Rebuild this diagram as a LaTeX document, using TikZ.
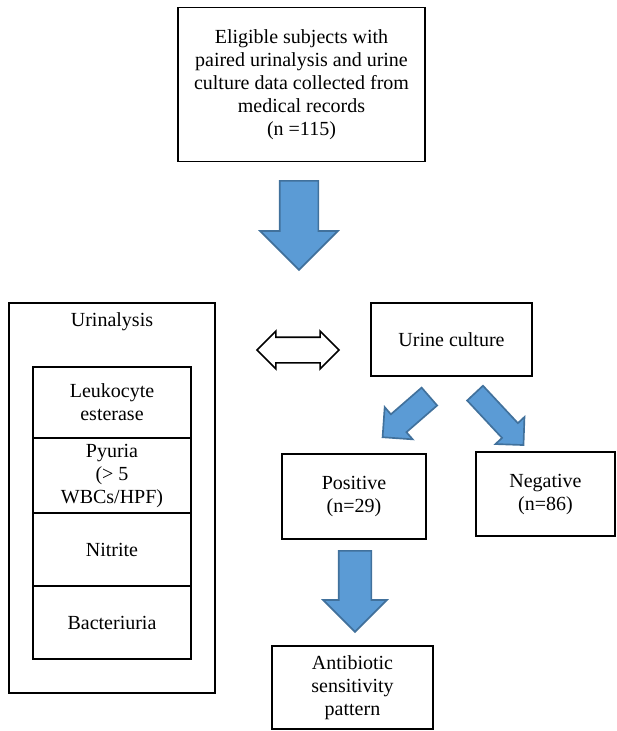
\documentclass[tikz,border=0pt]{standalone}
\usepackage{fontspec}
\setmainfont{Liberation Serif}
\usetikzlibrary{shapes.arrows,positioning}

\definecolor{arrowfill}{HTML}{5B9BD5}
\definecolor{arrowline}{HTML}{41719C}

\begin{document}
\begin{tikzpicture}[
    x=0.6pt,
    y=-0.6pt,
    font=\fontsize{12}{13.8}\selectfont,
    flowbox/.style={
        draw,
        rectangle,
        line width=0.8pt,
        align=center,
        inner sep=2pt
    },
    panelbox/.style={
        draw,
        rectangle,
        line width=1.4pt,
        minimum width=123.6pt,
        minimum height=234pt
    },
    cellbox/.style={
        draw,
        rectangle,
        line width=0.7pt,
        align=center,
        minimum width=94.8pt,
        inner sep=1pt
    },
    blockarrow/.style n args={3}{
        single arrow,
        draw=arrowline,
        fill=arrowfill,
        line width=1pt,
        anchor=tail,
        minimum width=0pt,
        inner xsep=0pt,
        inner ysep=#1,
        single arrow head extend=#2,
        minimum height=#3,
        single arrow tip angle=90
    },
    bidiarrow/.style={
        double arrow,
        draw=black,
        fill=white,
        line width=1pt,
        minimum width=0pt,
        inner xsep=0pt,
        double arrow tip angle=90
    }
]
\useasboundingbox (0,0) rectangle (617,731);

% ============================================================
% Top: study population
% ============================================================
\node[flowbox, minimum width=148.2pt, minimum height=92.4pt]
    (subjects) at (301.5,84.5)
    {Eligible subjects with\\paired urinalysis and urine\\culture data collected from\\medical records\\(n =115)};

\node[blockarrow={11.1pt}{11.7pt}{53.4pt}, rotate=-90]
    (arrow-main) at (299,180) {};

% ============================================================
% Left: urinalysis panel
% ============================================================
\node[panelbox] (ua-panel) at (112,498) {};
\node (ua-title) at (112,322) {Urinalysis};

\node[cellbox, minimum height=42.6pt] (ua-le)      at (112,402.5) {Leukocyte\\esterase};
\node[cellbox, minimum height=45pt]   (ua-pyuria)  at (112,475.5) {Pyuria\\(> 5\\WBCs/HPF)};
\node[cellbox, minimum height=43.8pt] (ua-nitrite) at (112,549.5) {Nitrite};
\node[cellbox, minimum height=43.8pt] (ua-bact)    at (112,622.5) {Bacteriuria};

% ============================================================
% Right: urine culture and results
% ============================================================
\node[bidiarrow, inner ysep=7.2pt, double arrow head extend=3.6pt, minimum height=49.2pt]
    (ua-uc) at (298,350) {};

\node[flowbox, minimum width=96.6pt, minimum height=43.8pt]
    (culture) at (451.5,339.5) {Urine culture};

\node[blockarrow={6.6pt}{5.7pt}{37.2pt}, rotate=221]
    (arrow-pos) at (430,396) {};
\node[blockarrow={6pt}{5.4pt}{42.6pt}, rotate=-47]
    (arrow-neg) at (474.5,392.5) {};

\node[flowbox, minimum width=86.4pt, minimum height=51pt]
    (positive) at (354,496.5) {Positive\\(n=29)};
\node[flowbox, minimum width=83.4pt, minimum height=50.4pt]
    (negative) at (545.5,494) {Negative\\(n=86)};

\node[blockarrow={9.3pt}{9.3pt}{48.6pt}, rotate=-90]
    (arrow-abx) at (355,550) {};

\node[flowbox, minimum width=96.6pt, minimum height=49.8pt]
    (antibiotic) at (352.5,687.5) {Antibiotic\\sensitivity\\pattern};

\end{tikzpicture}
\end{document}
